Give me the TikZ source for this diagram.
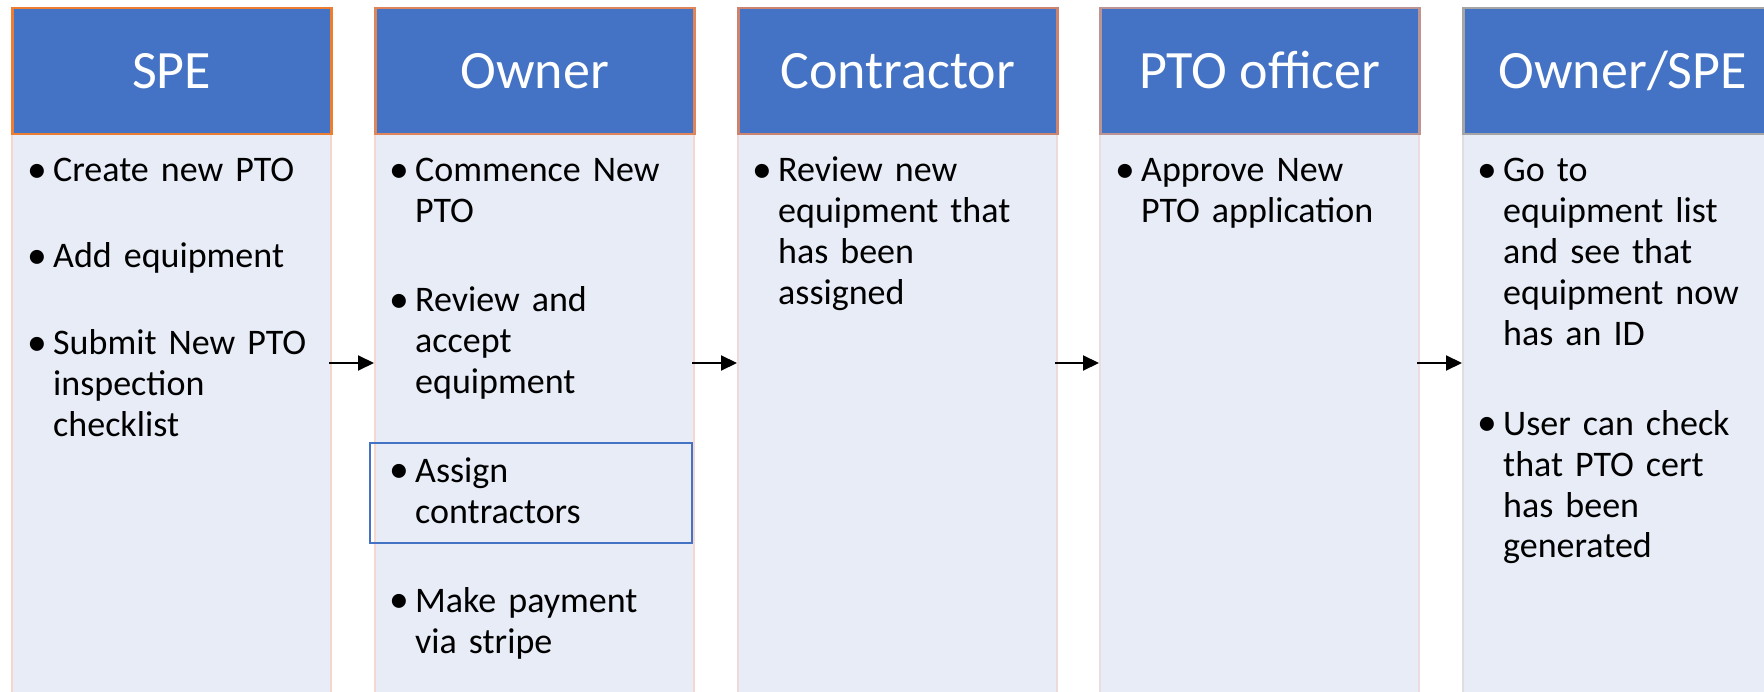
\documentclass[tikz,border=0pt]{standalone}
\usepackage{fontspec}
\setmainfont{Carlito}
\usetikzlibrary{arrows.meta}
\definecolor{headblue}{HTML}{4472C4}
\definecolor{bodyblue}{HTML}{E7ECF6}
\definecolor{edgeA}{HTML}{ED7D31}
\definecolor{edgeB}{HTML}{E0845A}
\definecolor{edgeC}{HTML}{CC8470}
\definecolor{edgeD}{HTML}{BC9494}
\definecolor{edgeE}{HTML}{A5A5A5}
\definecolor{paleA}{HTML}{F6D6CC}
\definecolor{paleB}{HTML}{F4D8D0}
\definecolor{paleC}{HTML}{EFDADA}
\definecolor{paleD}{HTML}{EBDDDF}
\definecolor{paleE}{HTML}{DEDEDE}
\newcommand{\itemdot}{\leavevmode\llap{\raisebox{-0.8pt}{\scalebox{1.1}{\textbullet}}\hspace{6pt}}}

\begin{document}
\begin{tikzpicture}
  [x=1pt,y=-1pt,
   head/.style={draw=#1,fill=headblue,line width=2.5pt,anchor=north west,
     minimum width=319pt,minimum height=126pt,inner sep=0,text=white,
     text height=34pt,text depth=0pt,font=\fontsize{54}{60}\selectfont},
   lane/.style={draw=#1,fill=bodyblue,line width=2pt,anchor=north west,
     minimum width=319pt,minimum height=600pt,inner sep=0},
   point/.style={anchor=base west,inner sep=0,text width=275pt,align=left,
     font=\fontsize{36}{41}\selectfont},
   flow/.style={-{Triangle[length=16pt,width=15pt]},line width=2pt}]

  \useasboundingbox[fill=white] (0,0) rectangle (1764,692);

  \node[lane=paleA] (spebody) at (11,133) {};
  \node[lane=paleB] (ownerbody) at (374,133) {};
  \node[lane=paleC] (contrbody) at (737,133) {};
  \node[lane=paleD] (officerbody) at (1099,133) {};
  \node[lane=paleE] (finalbody) at (1462,133) {};

  \node[head=edgeA] (spe) at (11,7) {SPE};
  \node[head=edgeB] (owner) at (374,7) {Owner};
  \node[head=edgeC] (contr) at (737,7) {Contractor};
  \node[head=edgeD] (officer) at (1099,7) {PTO officer};
  \node[head=edgeE] (final) at (1462,7) {Owner/SPE};

  \node[point] (create) at (53,182) {\itemdot Create new PTO};
  \node[point] (addeq) at (53,268) {\itemdot Add equipment};
  \node[point] (submit) at (53,355) {\itemdot Submit New PTO\\inspection\\checklist};

  \node[point] (commence) at (415,182) {\itemdot Commence New\\PTO};
  \node[point] (review) at (415,312) {\itemdot Review and\\accept\\equipment};
  \node[point] (assign) at (415,482) {\itemdot Assign\\contractors};
  \node[point] (payment) at (415,612) {\itemdot Make payment\\via stripe};

  \node[point] (checkeq) at (778,182) {\itemdot Review new\\equipment that\\has been\\assigned};

  \node[point] (approve) at (1141,182) {\itemdot Approve New\\PTO application};

  \node[point] (goto) at (1503,182) {\itemdot Go to\\equipment list\\and see that\\equipment now\\has an ID};
  \node[point] (usercheck) at (1503,435) {\itemdot User can check\\that PTO cert\\has been\\generated};

  \draw[headblue,line width=1.5pt] (370,443) rectangle (692,543);

  \draw[flow] ([xshift=-3pt,yshift=71pt]spebody.east) -- ([yshift=71pt]ownerbody.west);
  \draw[flow] ([xshift=-3pt,yshift=71pt]ownerbody.east) -- ([yshift=71pt]contrbody.west);
  \draw[flow] ([xshift=-3pt,yshift=71pt]contrbody.east) -- ([yshift=71pt]officerbody.west);
  \draw[flow] ([xshift=-3pt,yshift=71pt]officerbody.east) -- ([yshift=71pt]finalbody.west);
\end{tikzpicture}
\end{document}
